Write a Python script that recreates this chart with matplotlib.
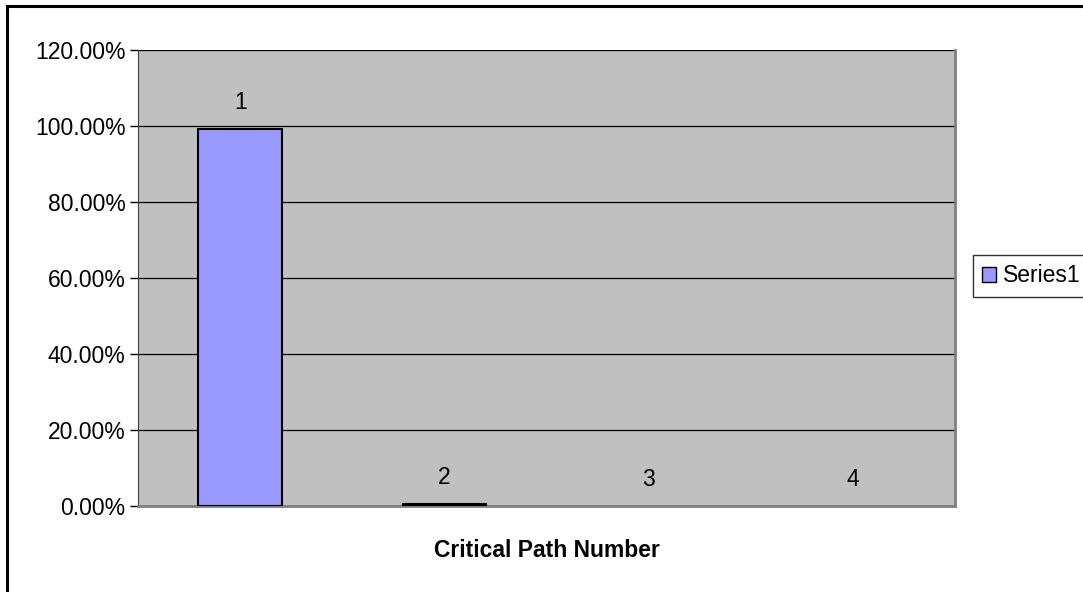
import matplotlib.pyplot as plt
from matplotlib.patches import Rectangle
from matplotlib.ticker import PercentFormatter

plt.rcParams['font.family'] = ['Liberation Sans', 'DejaVu Sans']

# critical path share per path
paths = ['1', '2', '3', '4']
share = [0.992, 0.006, 0.0, 0.0]
yticks = [0.0, 0.2, 0.4, 0.6, 0.8, 1.0, 1.2]

fs = 16.5

fig = plt.figure(figsize=(10.83, 5.92), dpi=100)
# outer chart frame (runs off the right and bottom edges)
fig.patches.append(Rectangle((7 / 1083, -0.1), 1.2, 1.1 - 6 / 592, transform=fig.transFigure,
                             fill=False, edgecolor='black', linewidth=2.2))

ax = fig.add_axes([138 / 1083, 1 - 506 / 592, (955 - 138) / 1083, (506 - 50) / 592])
ax.set_facecolor('#c0c0c0')

x = range(len(paths))
widths = [1.5 if v > 0 else 0 for v in share]
bars = ax.bar(x, share, width=0.41, color='#9999ff', edgecolor='black', linewidth=widths,
              label='Series1', zorder=3)
for xi, v, name in zip(x, share, paths):
    ax.text(xi, v + 0.04, name, ha='center', va='bottom', fontsize=fs, zorder=4)

ax.set_xlim(-0.5, len(paths) - 0.5)
ax.set_ylim(0, 1.2)
ax.set_yticks(yticks)
ax.yaxis.set_major_formatter(PercentFormatter(1.0, decimals=2))
ax.grid(axis='y', color='black', linewidth=0.9, zorder=1)
ax.set_xticks([])
ax.tick_params(axis='y', direction='out', length=6, width=1, labelsize=fs, pad=3)

ax.spines['top'].set_visible(False)
ax.spines['left'].set_color('#404040')
ax.spines['right'].set_color('#808080')
ax.spines['right'].set_linewidth(2)
ax.spines['bottom'].set_color('#808080')
ax.spines['bottom'].set_linewidth(2)

ax.set_xlabel('Critical Path Number', fontsize=fs, fontweight='bold', labelpad=24)

leg = fig.legend(handles=[bars], labels=['Series1'], loc='center left',
                 bbox_to_anchor=(973 / 1083, 1 - 276 / 592), fontsize=fs,
                 frameon=True, fancybox=False, edgecolor='black', handlelength=0.6,
                 handleheight=0.6, handletextpad=0.3, borderpad=0.4, borderaxespad=0)
leg.get_frame().set_linewidth(1)
leg.legend_handles[0].set_linewidth(1)

fig.savefig('out.png', dpi=100)
